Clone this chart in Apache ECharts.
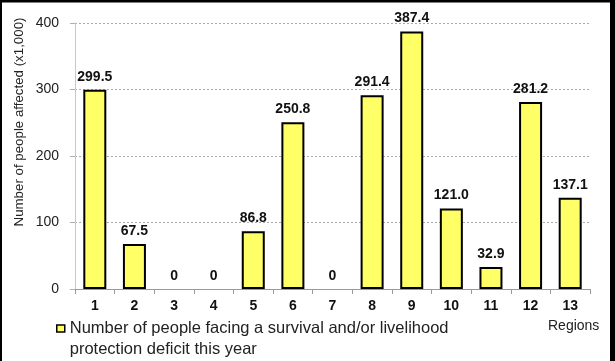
<!DOCTYPE html>
<html>
<head>
<meta charset="utf-8">
<script src="https://cdn.jsdelivr.net/npm/echarts@6/dist/echarts.min.js"></script>
<style>
  html, body { margin: 0; padding: 0; background: #fff; }
  #chart { width: 615px; height: 361px; }
</style>
</head>
<body>
<div id="chart"></div>
<script>
// Regions and affected population (thousands)
var regions = ['1', '2', '3', '4', '5', '6', '7', '8', '9', '10', '11', '12', '13'];
var peopleAffected = [299.5, 67.5, 0, 0, 86.8, 250.8, 0, 291.4, 387.4, 121.0, 32.9, 281.2, 137.1];
var yTicks = { min: 0, max: 400, interval: 100 };
var seriesName = 'Number of people facing a survival and/or livelihood\nprotection deficit this year';
var yAxisTitle = 'Number of people affected (x1,000)';
var xAxisTitle = 'Regions';

var chart = echarts.init(document.getElementById('chart'), null, { renderer: 'canvas' });

var font = 'Arial, "Liberation Sans", sans-serif';

// zero-valued regions get no visible outline, only their "0" label
var barData = peopleAffected.map(function (v) {
  return v === 0 ? { value: v, itemStyle: { borderWidth: 0 } } : v;
});

chart.setOption({
  animation: false,
  backgroundColor: '#ffffff',
  grid: { left: 75, right: 25, top: 23, bottom: 72, containLabel: false },
  legend: {
    left: 56,
    top: 297,
    padding: 0,
    itemWidth: 8,
    itemHeight: 7,
    icon: 'rect',
    data: [{ name: seriesName }],
    itemStyle: { color: '#ffff66', borderColor: '#000', borderWidth: 1.5 },
    // a leading blank line keeps the swatch level with the first text line
    formatter: function (name) { return ' \n' + name; },
    textStyle: {
      fontFamily: font,
      fontSize: 16.5,
      color: '#222',
      lineHeight: 21
    }
  },
  xAxis: {
    type: 'category',
    data: regions,
    axisLine: { lineStyle: { color: '#9a9a9a', width: 1 } },
    axisTick: { show: true, length: 5, alignWithLabel: false, lineStyle: { color: '#9a9a9a' } },
    axisLabel: { fontFamily: font, fontSize: 14, fontWeight: 'bold', color: '#111', margin: 10 }
  },
  yAxis: {
    type: 'value',
    min: yTicks.min,
    max: yTicks.max,
    interval: yTicks.interval,
    axisLine: { show: true, lineStyle: { color: '#c8c8c8', width: 1 } },
    axisTick: { show: true, length: 5, lineStyle: { color: '#b0b0b0' } },
    axisLabel: { fontFamily: font, fontSize: 14, color: '#222', margin: 16 },
    splitLine: { show: true, lineStyle: { color: '#aaaaaa', type: [2, 2], width: 1 } }
  },
  series: [{
    name: seriesName,
    type: 'bar',
    data: barData,
    barWidth: 23,
    itemStyle: { color: '#ffff66', borderColor: '#000', borderWidth: 2 },
    label: {
      show: true,
      position: 'top',
      distance: 6,
      fontFamily: font,
      fontSize: 14,
      fontWeight: 'bold',
      color: '#111',
      formatter: function (p) {
        return p.value === 0 ? '0' : p.value.toFixed(1);
      }
    }
  }],
  graphic: [
    {
      type: 'text',
      x: 19,
      y: 122,
      rotation: Math.PI / 2,
      style: {
        text: yAxisTitle,
        font: '13.3px ' + font,
        fill: '#222',
        textAlign: 'center',
        textVerticalAlign: 'middle'
      }
    },
    {
      type: 'text',
      left: 548,
      top: 319,
      style: { text: xAxisTitle, font: '14px ' + font, fill: '#222' }
    },
    // frame around the chart area (top, left, right)
    { type: 'rect', shape: { x: 0, y: 0, width: 615, height: 2.5 }, style: { fill: '#000' } },
    { type: 'rect', shape: { x: 0, y: 0, width: 2, height: 361 }, style: { fill: '#000' } },
    { type: 'rect', shape: { x: 610, y: 0, width: 5, height: 361 }, style: { fill: '#000' } }
  ]
});
</script>
</body>
</html>
